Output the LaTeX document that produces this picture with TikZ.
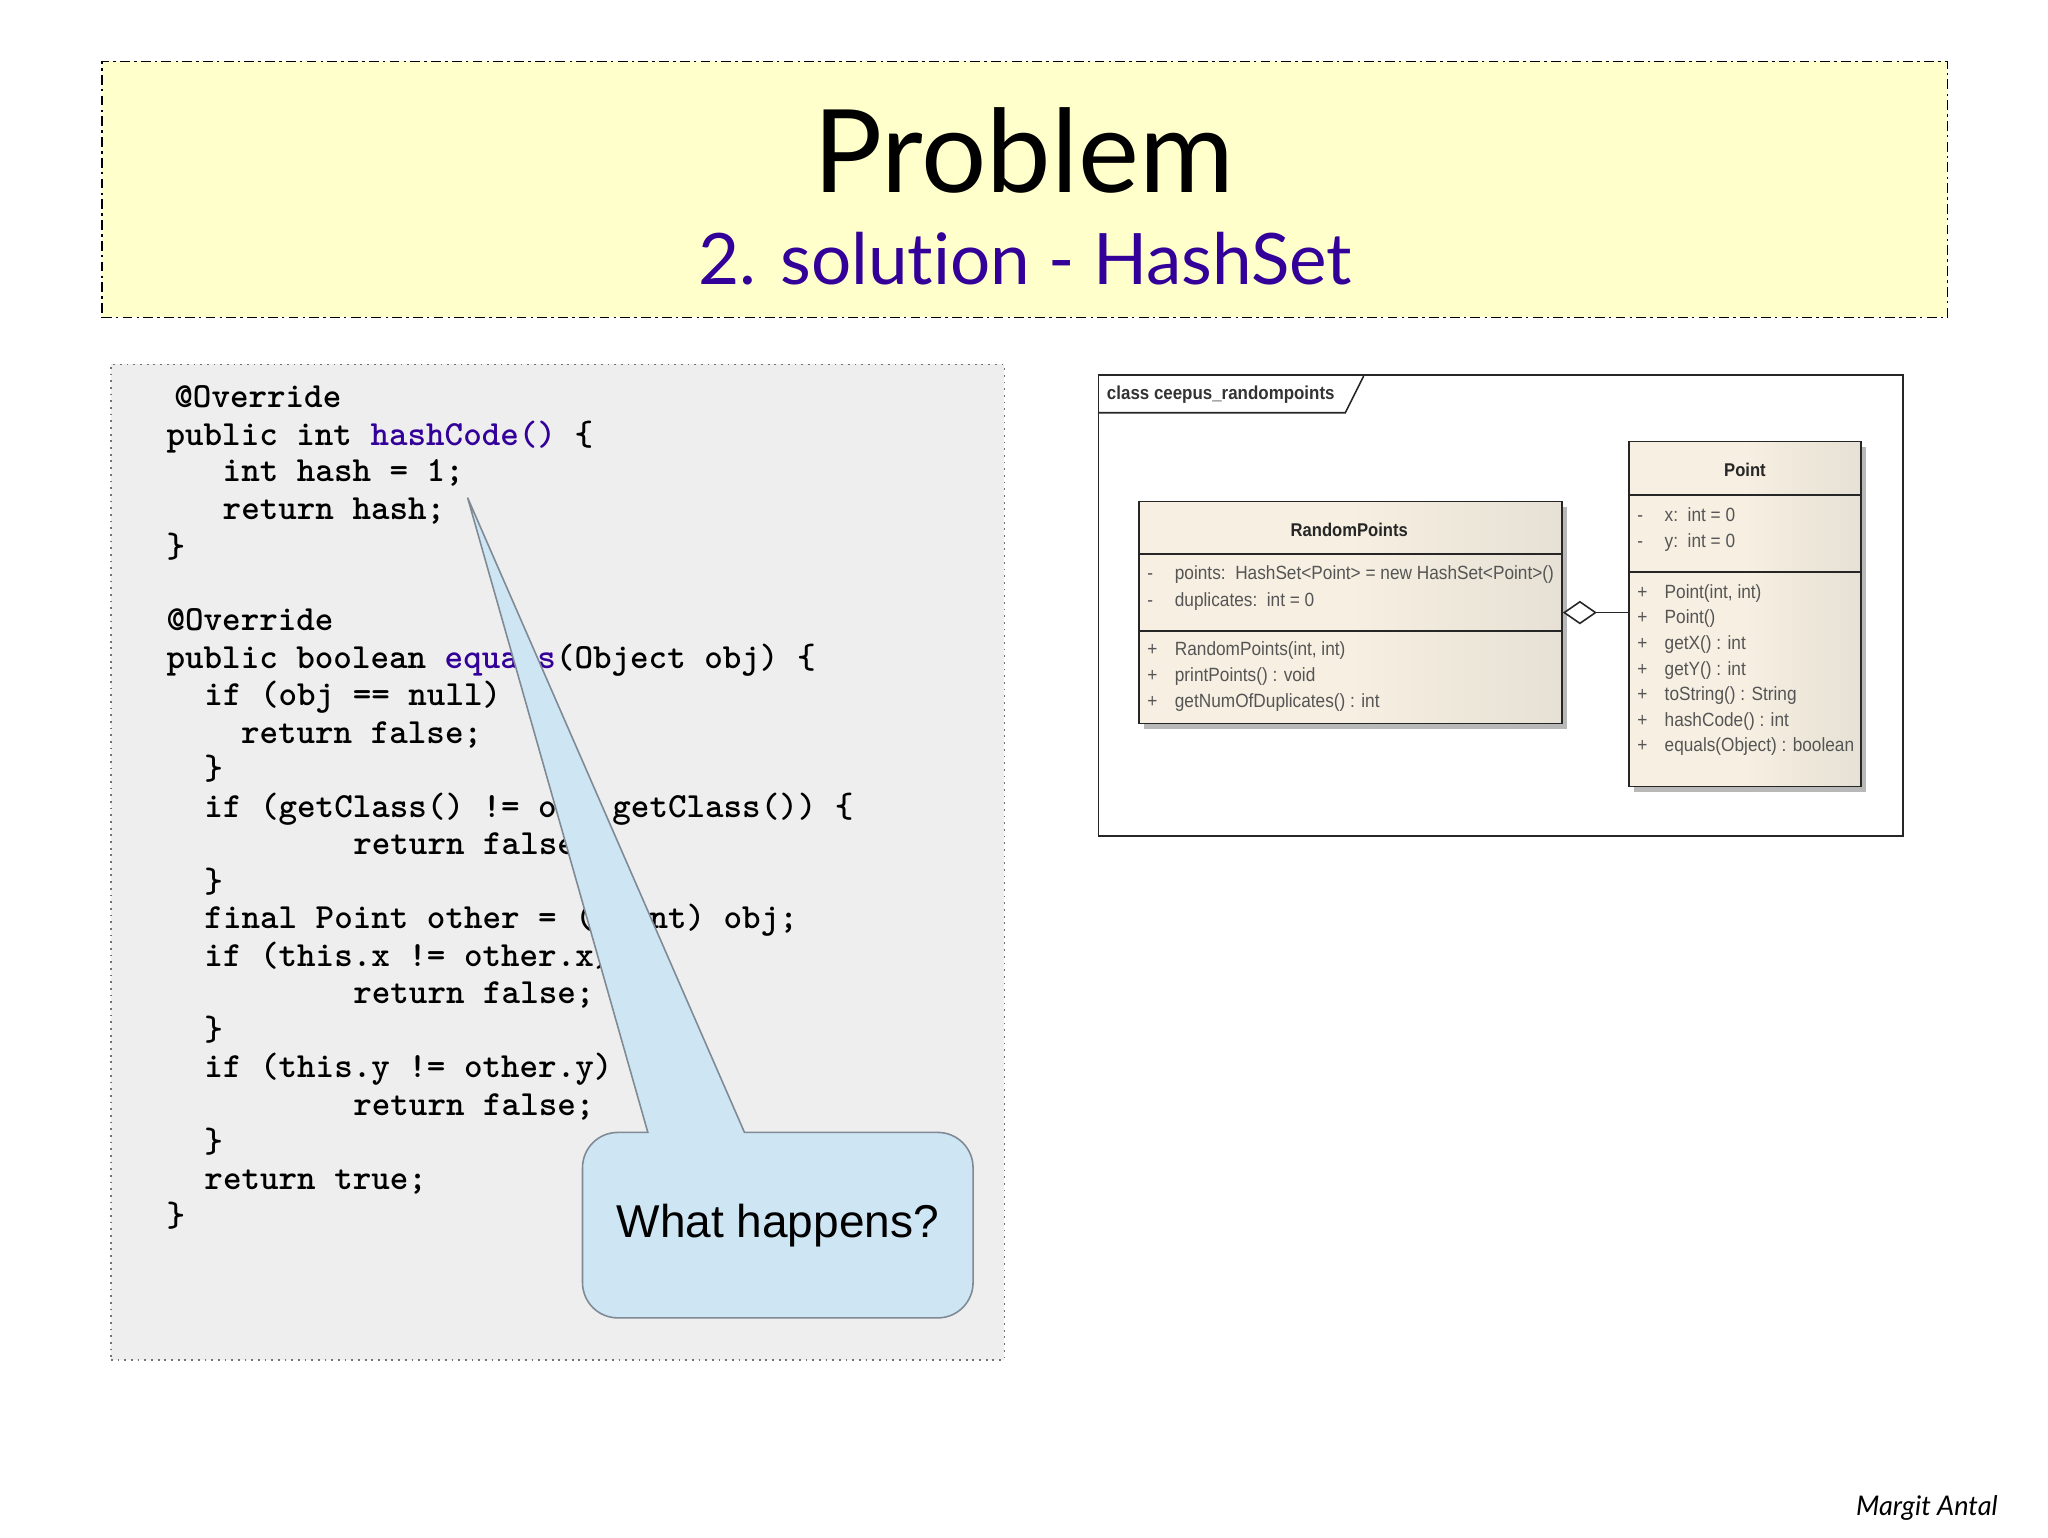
\documentclass[tikz,border=0pt]{standalone}
\usepackage{fontspec}
\usetikzlibrary{arrows.meta,calc}
\setmainfont{Liberation Sans}
\newfontfamily\titlefont[Ligatures=NoCommon]{Lato}
\newfontfamily\umlfont[FakeStretch=0.9]{Liberation Sans}
\definecolor{banner}{HTML}{FFFFCC}
\definecolor{codeblue}{HTML}{330099}
\definecolor{codebg}{HTML}{EEEEEE}
\definecolor{calloutfill}{HTML}{CEE5F3}
\definecolor{calloutline}{HTML}{7F8A94}
\definecolor{umltext}{HTML}{555555}
\definecolor{beige}{HTML}{F6EFE2}
\definecolor{beigedark}{HTML}{E6E1D4}
\def\uu{0.013061cm}
\newcommand{\fsz}[1]{\fontsize{#1}{#1}\selectfont}
\newcommand{\cl}[4]{\node[codeline] (#1) at (#2,#3) {#4};}
\newcommand{\um}[4]{\node[umlitem] (#1) at (#2,#3) {#4};}
\tikzset{
  codeline/.style={anchor=base west,inner sep=0pt,font=\ttfamily\bfseries\fsz{10.05}},
  umlitem/.style={anchor=base west,inner sep=0pt,text=umltext,font=\umlfont\fsz{5.45}},
  umltitle/.style={anchor=base,inner sep=0pt,text=black!85,font=\umlfont\bfseries\fsz{5.25}},
  umlshadow/.style={fill=black!28,draw=none},
  umlbox/.style={draw=black!85,line width=0.45pt,inner sep=0pt,left color=beige,right color=beigedark,middle color=beige},
  umlline/.style={draw=black!85,line width=0.45pt},
}
\begin{document}
\begin{tikzpicture}[x=\uu,y=-\uu]
\useasboundingbox (0,0) rectangle (1568,1176.8);
% banner
\node[draw=black,fill=banner,line width=0.5pt,dash pattern=on 2.8pt off 1.2pt on 0.7pt off 1.2pt,
  minimum width=1413*\uu,minimum height=196*\uu,inner sep=0pt] (banner) at (784.5,145) {};
\node[inner sep=0pt,anchor=base,font=\titlefont\fsz{32.8}] (title) at (784,147) {Problem};
\node[inner sep=0pt,anchor=base,text=codeblue,font=\titlefont\fsz{20.2}] (subtitle) at (785,218) {2. solution - HashSet};
% code box
\node[draw=black!55,fill=codebg,line width=0.5pt,dash pattern=on 0.5pt off 1.4pt,
  minimum width=684*\uu,minimum height=762*\uu,inner sep=0pt] (codebox) at (427,660) {};
\cl{c1}{133}{312}{@Override}
\cl{c2}{127}{341}{public int \textcolor{codeblue}{hashCode()} \{}
\cl{c3}{170}{369}{int hash = 1;}
\cl{c4}{170}{398}{return hash;}
\cl{c5}{127}{427}{\}}
\cl{c6}{127}{483}{@Override}
\cl{c7}{127}{512}{public boolean \textcolor{codeblue}{equals}(Object obj) \{}
\cl{c8}{156}{540}{if (obj == null)}
\cl{c9}{184}{569}{return false;}
\cl{c10}{156}{597}{\}}
\cl{c11}{156}{626}{if (getClass() != obj.getClass()) \{}
\cl{c12}{270}{654}{return false;}
\cl{c13}{156}{683}{\}}
\cl{c14}{156}{711}{final Point other = (Point) obj;}
\cl{c15}{156}{740}{if (this.x != other.x) \{}
\cl{c16}{270}{768}{return false;}
\cl{c17}{156}{797}{\}}
\cl{c18}{156}{825}{if (this.y != other.y) \{}
\cl{c19}{270}{854}{return false;}
\cl{c20}{156}{882}{\}}
\cl{c21}{156}{911}{return true;}
\cl{c22}{127}{939}{\}}
% callout
\draw[fill=calloutfill,draw=calloutline,line width=0.45pt]
  (358,381) -- (570,867) -- (718,867) arc[start angle=90,end angle=0,radius=27*\uu]
  -- (745,982) arc[start angle=0,end angle=-90,radius=27*\uu]
  -- (473,1009) arc[start angle=270,end angle=180,radius=27*\uu]
  -- (446,894) arc[start angle=180,end angle=90,radius=27*\uu]
  -- (496,867) -- cycle;
\node[inner sep=0pt,font=\fsz{13.1}] (callout) at (595.5,938) {What happens?};
% UML frame
\node[draw=black!85,fill=white,line width=0.5pt,minimum width=616*\uu,minimum height=353*\uu,inner sep=0pt] (frame) at (1149,463.5) {};
\draw[umlline] (841,316) -- (1030,316) -- (1044,288);
\node[anchor=base west,inner sep=0pt,text=black!80,font=\umlfont\bfseries\fsz{5.35}] (frametitle) at (847,305.5) {class ceepus\_randompoints};
% RandomPoints
\fill[umlshadow] (876,388) rectangle (1200,558);
\node[umlbox,minimum width=324*\uu,minimum height=170*\uu] (rp) at (1034,469) {};
\draw[umlline] (872,424) -- (1196,424);
\draw[umlline] (872,483) -- (1196,483);
\node[umltitle] (rpt) at (1033,411) {RandomPoints};
\um{r1a}{878}{444}{-}\um{r1}{899}{444}{points:\ \ HashSet<Point> = new HashSet<Point>()}
\um{r2a}{878}{464}{-}\um{r2}{899}{464}{duplicates:\ \ int = 0}
\um{r3a}{878}{502}{+}\um{r3}{899}{502}{RandomPoints(int, int)}
\um{r4a}{878}{522}{+}\um{r4}{899}{522}{printPoints() : void}
\um{r5a}{878}{542}{+}\um{r5}{899}{542}{getNumOfDuplicates() : int}
% Point
\fill[umlshadow] (1251,342) rectangle (1429,606);
\node[umlbox,minimum width=178*\uu,minimum height=264*\uu] (pt) at (1336,470) {};
\draw[umlline] (1247,379) -- (1425,379);
\draw[umlline] (1247,438) -- (1425,438);
\node[umltitle] (ptt) at (1336,365) {Point};
\um{p1a}{1253}{399}{-}\um{p1}{1274}{399}{x:\ \ int = 0}
\um{p2a}{1253}{419}{-}\um{p2}{1274}{419}{y:\ \ int = 0}
\um{p3a}{1253}{458}{+}\um{p3}{1274}{458}{Point(int, int)}
\um{p4a}{1253}{477}{+}\um{p4}{1274}{477}{Point()}
\um{p5a}{1253}{497}{+}\um{p5}{1274}{497}{getX() : int}
\um{p6a}{1253}{517}{+}\um{p6}{1274}{517}{getY() : int}
\um{p7a}{1253}{536}{+}\um{p7}{1274}{536}{toString() : String}
\um{p8a}{1253}{556}{+}\um{p8}{1274}{556}{hashCode() : int}
\um{p9a}{1253}{575}{+}\um{p9}{1274}{575}{equals(Object) : boolean}
% aggregation
\draw[umlline,{Diamond[open,fill=white,length=26*\uu,width=18*\uu]}-] (rp.east) -- (rp.east -| pt.west);
% signature
\node[anchor=base east,inner sep=0pt,font=\titlefont\itshape\fsz{7.7}] (sig) at (1530,1160) {Margit Antal};
\end{tikzpicture}
\end{document}
